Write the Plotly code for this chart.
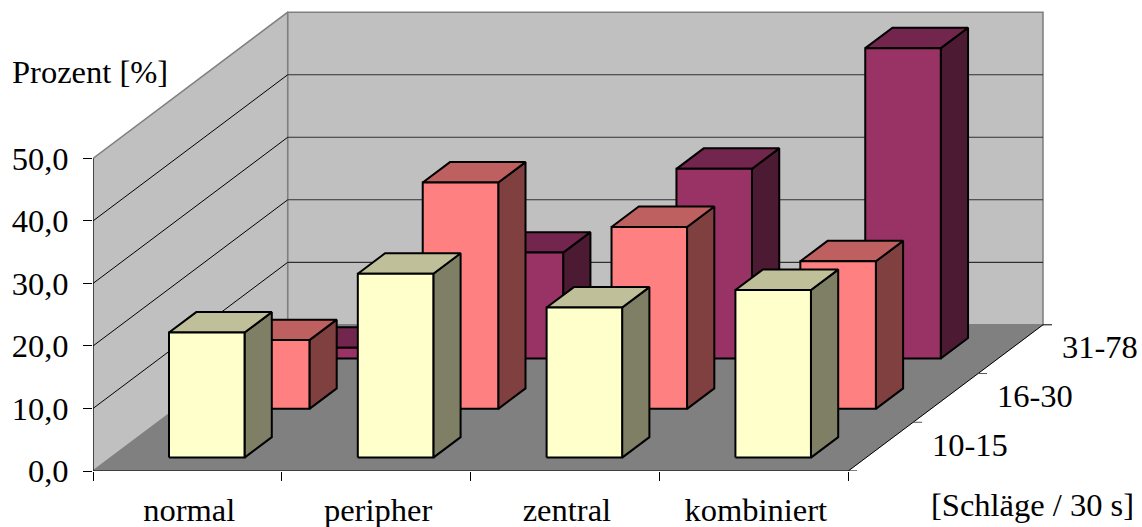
import plotly.graph_objects as go

categories = ["normal", "peripher", "zentral", "kombiniert"]
series_names = ["10-15", "16-30", "31-78"]
values_10_15 = [20.0, 29.4, 24.0, 26.8]
values_16_30 = [11.0, 36.2, 29.1, 23.6]
values_31_78 = [2.0, 17.2, 30.6, 49.9]
y_ticks = [0, 10, 20, 30, 40, 50]
y_tick_labels = ["0,0", "10,0", "20,0", "30,0", "40,0", "50,0"]
series_values = [values_10_15, values_16_30, values_31_78]

W, H = 1142, 527
ML, MB = 93.3, 56.3
PX_CAT = 188.75          # pixels per category
PX_VAL = 6.248           # pixels per percent
DX = 64.9 / PX_CAT       # depth shift per series, category units
DY = 48.7 / PX_VAL       # depth shift per series, value units
N_DEPTH = len(series_names)
N_CAT = len(categories)
VMAX = y_ticks[-1]

GAP_X = 0.308
BAR_W = 0.40
GAP_D = 0.275
BAR_D = 0.42
BASE_LIFT = [0, 0, 0.26]  # small vertical offset of the bar foot per series
FONT = "Liberation Serif"
FS = 32.5

colors = [("#FFFFCC", "#BFBF99", "#7F7F66"),
          ("#FF8080", "#BF6060", "#804040"),
          ("#993366", "#73264D", "#4D1A33")]


def proj(cat, depth, val):
    return cat + depth * DX, val + depth * DY


def poly(points, fill, line="#000000", width=2.0):
    xs = [p[0] for p in points] + [points[0][0]]
    ys = [p[1] for p in points] + [points[0][1]]
    return go.Scatter(x=xs, y=ys, mode="lines", fill="toself", fillcolor=fill,
                      line=dict(color=line, width=width), hoverinfo="skip",
                      showlegend=False)


def seg(a, b, color, width=1.0):
    return go.Scatter(x=[a[0], b[0]], y=[a[1], b[1]], mode="lines",
                      line=dict(color=color, width=width), hoverinfo="skip",
                      showlegend=False)


fig = go.Figure()

# walls and floor
fig.add_trace(poly([proj(0, 0, 0), proj(0, N_DEPTH, 0), proj(N_CAT, N_DEPTH, 0), proj(N_CAT, 0, 0)],
                   "#808080", "#808080", 0.5))
fig.add_trace(poly([proj(0, 0, 0), proj(0, N_DEPTH, 0), proj(0, N_DEPTH, VMAX), proj(0, 0, VMAX)],
                   "#C0C0C0", "#808080", 1.6))
fig.add_trace(poly([proj(0, N_DEPTH, 0), proj(N_CAT, N_DEPTH, 0), proj(N_CAT, N_DEPTH, VMAX), proj(0, N_DEPTH, VMAX)],
                   "#C0C0C0", "#808080", 1.6))
for v in y_ticks[1:-1]:
    fig.add_trace(seg(proj(0, 0, v), proj(0, N_DEPTH, v), "#000000", 1))
    fig.add_trace(seg(proj(0, N_DEPTH, v), proj(N_CAT, N_DEPTH, v), "#303030", 1.2))

# axis lines
fig.add_trace(seg(proj(0, 0, 0), proj(0, 0, VMAX), "#000000", 1))
fig.add_trace(seg(proj(0, 0, 0), proj(N_CAT, 0, 0), "#000000", 1))
fig.add_trace(seg(proj(N_CAT, 0, 0), proj(N_CAT, N_DEPTH, 0), "#000000", 1))
for d in range(N_DEPTH + 1):
    a = proj(N_CAT, d, 0)
    fig.add_trace(seg(a, (a[0] + 9 / PX_CAT, a[1]), "#000000" if d in (0, N_DEPTH) else "#555555", 1))

# bars, back to front
for s in range(N_DEPTH - 1, -1, -1):
    front, top, side = colors[s]
    b = BASE_LIFT[s]
    for c in range(N_CAT):
        v = series_values[s][c]
        x0, x1 = c + GAP_X, c + GAP_X + BAR_W
        d0, d1 = s + GAP_D, s + GAP_D + BAR_D
        fig.add_trace(poly([proj(x1, d0, b), proj(x1, d1, b), proj(x1, d1, v), proj(x1, d0, v)], side))
        fig.add_trace(poly([proj(x0, d0, v), proj(x1, d0, v), proj(x1, d1, v), proj(x0, d1, v)], top))
        fig.add_trace(poly([proj(x0, d0, b), proj(x1, d0, b), proj(x1, d0, v), proj(x0, d0, v)], front))

annotations = []
for s, name in enumerate(series_names):
    ax, ay = proj(N_CAT, s + 0.5, 0)
    annotations.append(dict(x=ax, y=ay, xref="x", yref="y", text=name, showarrow=False,
                            xshift=89, yshift=2, font=dict(family=FONT, size=FS, color="#000000")))
plot_w = W - ML
plot_h = H - MB
annotations.append(dict(x=(1033 - ML) / plot_w, y=(plot_h - 505) / plot_h, xref="paper", yref="paper",
                        xanchor="center", yanchor="middle",
                        text="[Schläge / 30 s]", showarrow=False,
                        font=dict(family=FONT, size=FS, color="#000000")))
annotations.append(dict(x=(90 - ML) / plot_w, y=(plot_h - 72) / plot_h, xref="paper", yref="paper",
                        xanchor="center", yanchor="middle",
                        text="Prozent [%]", showarrow=False,
                        font=dict(family=FONT, size=FS, color="#000000")))

fig.update_layout(
    width=W, height=H, autosize=False,
    margin=dict(l=ML, r=0, t=0, b=MB, pad=0),
    paper_bgcolor="#FFFFFF", plot_bgcolor="#FFFFFF",
    showlegend=False, hovermode=False,
    annotations=annotations,
    xaxis=dict(range=[0, plot_w / PX_CAT], showgrid=False, zeroline=False, showline=False,
               tickmode="array", tickvals=[i + 0.51 for i in range(N_CAT)], ticktext=categories,
               ticks="", ticklabelstandoff=16,
               tickfont=dict(family=FONT, size=FS, color="#000000"),
               minor=dict(tickmode="array", tickvals=list(range(N_CAT + 1)), ticks="outside",
                          ticklen=9, tickwidth=1, tickcolor="#000000", showgrid=False)),
    yaxis=dict(range=[0, plot_h / PX_VAL], showgrid=False, zeroline=False, showline=False,
               tickmode="array", tickvals=y_ticks, ticktext=y_tick_labels,
               ticks="outside", ticklen=9, tickwidth=1, tickcolor="#000000", ticklabelstandoff=8,
               tickfont=dict(family=FONT, size=FS, color="#000000")),
)
fig.write_html("out.html", config=dict(displayModeBar=False),
               post_script="document.body.style.margin='0';document.body.style.overflow='hidden';")
